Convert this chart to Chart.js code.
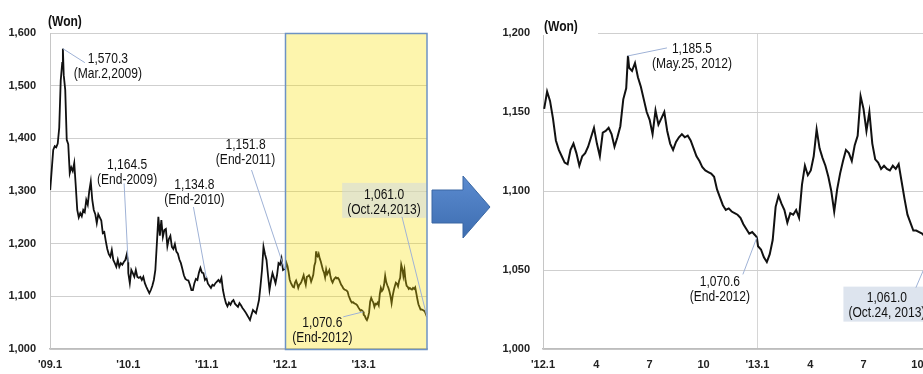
<!DOCTYPE html>
<html>
<head>
<meta charset="utf-8">
<script src="https://cdn.jsdelivr.net/npm/chart.js@4.4.0/dist/chart.umd.min.js"></script>
<style>
  html, body { margin: 0; padding: 0; background: #fff; overflow: hidden; }
  body { width: 923px; height: 374px; position: relative; }
  .panel { position: absolute; top: 0; height: 374px; }
  #leftPanel { left: 0; width: 437px; }
  #rightPanel { left: 490px; width: 455px; }
  #arrow { position: absolute; left: 430px; top: 170px; }
</style>
</head>
<body>
<div id="leftPanel" class="panel"><canvas id="longChart"></canvas></div>
<div id="rightPanel" class="panel"><canvas id="zoomChart"></canvas></div>
<svg id="arrow" width="64" height="76" viewBox="0 0 64 76">
  <defs>
    <linearGradient id="arrowFill" x1="0" y1="0" x2="0" y2="1">
      <stop offset="0" stop-color="#5b8bd0"/>
      <stop offset="1" stop-color="#3d6db0"/>
    </linearGradient>
  </defs>
  <polygon points="2,20 33,20 33,6 60,37 33,68 33,53 2,53" fill="url(#arrowFill)" stroke="#3a67a3" stroke-width="1"/>
</svg>
<script>
// KRW per USD, weekly closes 2009-2011 (every 7 days from weeklyStart)
const weeklyStart = '2009-01-02';
const weeklyRates = [
  1302, 1340, 1378, 1385, 1383, 1390, 1420, 1510, 1543, 1520,
  1492, 1397, 1389, 1334, 1345, 1338, 1353, 1310, 1264, 1250,
  1258, 1252, 1264, 1260, 1283, 1274, 1300, 1318, 1283, 1264,
  1256, 1239, 1256, 1250, 1244, 1220, 1222, 1205, 1190, 1180,
  1175, 1188, 1169, 1163, 1156, 1169, 1156, 1163, 1160, 1165,
  1169, 1180,
  1144, 1125, 1150, 1144, 1137, 1150, 1137, 1135, 1137, 1131,
  1137, 1125, 1118, 1112, 1106, 1112, 1120, 1131, 1150, 1200,
  1251, 1215, 1245, 1213, 1226, 1228, 1195, 1209, 1215, 1194,
  1190, 1199, 1185, 1181, 1170, 1163, 1152, 1140, 1133, 1131,
  1130, 1122, 1112, 1112, 1125, 1133, 1131, 1145, 1154, 1145,
  1144, 1131, 1135,
  1124, 1120, 1116, 1122, 1120, 1125, 1128, 1131, 1127, 1135,
  1112, 1098, 1087, 1081, 1088, 1084, 1090, 1093, 1086, 1083,
  1080, 1087, 1083, 1078, 1074, 1070, 1065, 1060, 1055, 1065,
  1074, 1071, 1068, 1080, 1093, 1120, 1150, 1194, 1180, 1169,
  1140, 1112, 1130, 1144, 1135, 1125, 1140, 1163, 1160, 1172,
  1150
];

// 2012-2013 closes, every 5 days from recentStart
const recentStart = '2012-01-03';
const recentRates = [
  1152, 1163, 1157, 1146, 1132, 1126, 1122, 1118, 1117, 1126,
  1130, 1124, 1116, 1122, 1124, 1128, 1134, 1140, 1130, 1122,
  1137, 1138, 1140, 1136, 1128, 1134, 1141, 1158, 1165, 1178,
  1176, 1181, 1172, 1166, 1158, 1150, 1145, 1136, 1151, 1142,
  1146, 1150, 1138, 1130, 1126, 1131, 1134, 1136, 1134, 1135,
  1132, 1127, 1122, 1119, 1115, 1113, 1112, 1111, 1109, 1101,
  1096, 1091, 1088, 1089, 1087, 1086, 1085, 1083, 1079, 1076,
  1073, 1074, 1072, 1065, 1063, 1058, 1055, 1060, 1069, 1090,
  1097, 1092, 1088, 1080, 1086, 1085, 1088, 1083, 1104, 1116,
  1110, 1113, 1122, 1139, 1127, 1121, 1116, 1109, 1100, 1087,
  1101, 1111, 1119, 1126, 1124, 1119, 1129, 1135, 1160, 1152,
  1138, 1150, 1130, 1120, 1118, 1114, 1116, 1114, 1113, 1116,
  1114, 1117, 1106, 1095, 1085, 1080, 1075, 1075, 1074, 1073,
  1071, 1066
];

// labelled points
const keyDates = ['2009-03-02', '2009-12-31', '2010-12-31', '2011-12-30', '2012-05-25', '2012-12-31', '2013-10-24'];
const keyRates = [1570.3, 1164.5, 1134.8, 1151.8, 1185.5, 1070.6, 1061.0];

const longTickDates = ['2009-01-01', '2010-01-01', '2011-01-01', '2012-01-01', '2013-01-01'];
const longTickLabels = ["'09.1", "'10.1", "'11.1", "'12.1", "'13.1"];
const zoomTickDates = ['2012-01-01', '2012-04-01', '2012-07-01', '2012-10-01', '2013-01-01', '2013-04-01', '2013-07-01', '2013-10-01'];
const zoomTickLabels = ["'12.1", '4', '7', '10', "'13.1", '4', '7', '10'];
const longYTicks = [1000, 1100, 1200, 1300, 1400, 1500, 1600];
const zoomYTicks = [1000, 1050, 1100, 1150, 1200];

const FONT = "'Liberation Sans', Arial, sans-serif";
const SQUEEZE = 0.86;   // narrow the callout lettering
const DAY_MS = 86400000;

function dayNo(s) {
  const [y, m, d] = s.split('-').map(Number);
  return Date.UTC(y, m - 1, d) / DAY_MS;
}

function fmt(v, digits) {
  return v.toLocaleString('en-US', { minimumFractionDigits: digits, maximumFractionDigits: digits });
}

function buildSeries() {
  const pts = [];
  const w0 = dayNo(weeklyStart);
  weeklyRates.forEach((v, i) => pts.push({ x: w0 + i * 7, y: v }));
  const r0 = dayNo(recentStart);
  recentRates.forEach((v, i) => pts.push({ x: r0 + i * 5, y: v }));
  const keys = keyDates.map(dayNo);
  const out = pts.filter(p => !keys.some(k => Math.abs(k - p.x) < 1));
  keys.forEach((k, i) => out.push({ x: k, y: keyRates[i] }));
  out.sort((a, b) => a.x - b.x);
  return out;
}

const series = buildSeries();

function narrowText(ctx, text, x, y) {
  ctx.save();
  ctx.translate(x, y);
  ctx.scale(SQUEEZE, 1);
  ctx.fillText(text, 0, 0);
  ctx.restore();
}

// callouts, unit label and the shaded range
const notesPlugin = {
  id: 'notes',
  afterDatasetsDraw(chart, args, opts) {
    const { ctx, chartArea: area } = chart;
    const xs = chart.scales.x, ys = chart.scales.y;
    ctx.save();

    if (opts.shadeFrom) {
      const left = Math.round(xs.getPixelForValue(dayNo(opts.shadeFrom))) + 0.5;
      ctx.fillStyle = 'rgba(248,224,0,0.32)';
      ctx.fillRect(left, area.top, area.right - left, area.bottom - area.top);
      ctx.strokeStyle = '#6d92c4';
      ctx.lineWidth = 1.5;
      ctx.strokeRect(left, area.top + 0.5, area.right - left, area.bottom - area.top);
    }

    // unit label
    ctx.font = 'bold 14px ' + FONT;
    ctx.textBaseline = 'middle';
    ctx.textAlign = 'left';
    if (opts.unitBg) {
      ctx.fillStyle = '#fff';
      ctx.fillRect(area.left - 1, area.top - 18, 56, 20);
    }
    ctx.fillStyle = '#111';
    narrowText(ctx, '(Won)', area.left + opts.unitDx, area.top + opts.unitDy);

    ctx.font = '14px ' + FONT;
    ctx.textAlign = 'center';
    opts.notes.forEach(n => {
      const px = xs.getPixelForValue(dayNo(keyDates[n.key]));
      const py = ys.getPixelForValue(keyRates[n.key]);
      const lines = [fmt(keyRates[n.key], 1), n.when];
      const tx = px + n.dx, ty = py + n.dy;

      if (n.box) {
        const w = Math.max(...lines.map(t => ctx.measureText(t).width)) * SQUEEZE + 10;
        ctx.fillStyle = n.box;
        ctx.fillRect(tx - w / 2, ty - 12, w, 35);
      }

      ctx.strokeStyle = '#9fb2d6';
      ctx.lineWidth = 1;
      ctx.beginPath();
      ctx.moveTo(px, py);
      ctx.lineTo(px + n.lx, py + n.ly);
      ctx.stroke();

      ctx.fillStyle = '#111';
      lines.forEach((t, i) => narrowText(ctx, t, tx, ty + i * 15));
    });
    ctx.restore();
  }
};

function makeChart(id, cfg) {
  const tickDays = cfg.tickDates.map(dayNo);
  return new Chart(document.getElementById(id), {
    type: 'line',
    data: {
      datasets: [{
        data: cfg.data,
        borderColor: '#111',
        borderWidth: cfg.lineWidth,
        pointRadius: 0,
        tension: 0,
        fill: false
      }]
    },
    options: {
      responsive: true,
      maintainAspectRatio: false,
      animation: false,
      layout: { padding: { top: 33, right: 10, bottom: 0, left: 0 } },
      plugins: {
        legend: { display: false },
        tooltip: { enabled: false },
        notes: cfg.notes
      },
      scales: {
        x: {
          type: 'linear',
          min: dayNo(cfg.xMin),
          max: dayNo(cfg.xMax),
          afterBuildTicks: s => { s.ticks = tickDays.map(v => ({ value: v })); },
          afterFit: s => { s.height = 25; },
          ticks: {
            autoSkip: false,
            maxRotation: 0,
            padding: 9,
            color: '#222',
            font: { family: FONT, size: 11, weight: 'bold' },
            callback: v => cfg.tickLabels[tickDays.indexOf(v)]
          },
          grid: {
            display: true,
            drawTicks: false,
            color: c => (cfg.vLine && c.tick && c.tick.value === dayNo(cfg.vLine)) ? '#d6d6d6' : 'transparent'
          },
          border: { color: '#bdbdbd', width: 1.5 }
        },
        y: {
          min: cfg.yTicks[0],
          max: cfg.yTicks[cfg.yTicks.length - 1],
          afterBuildTicks: s => { s.ticks = cfg.yTicks.map(v => ({ value: v })); },
          afterFit: s => { s.width = cfg.yWidth; },
          ticks: {
            padding: cfg.yPad,
            color: '#222',
            font: { family: FONT, size: 11, weight: 'bold' },
            callback: v => fmt(v, 0)
          },
          grid: { color: '#cfcfcf', drawTicks: false },
          border: { color: '#c6c6c6' }
        }
      }
    },
    plugins: [notesPlugin]
  });
}

makeChart('longChart', {
  data: series,
  lineWidth: 1.8,
  xMin: '2009-01-01',
  xMax: '2013-10-24',
  tickDates: longTickDates,
  tickLabels: longTickLabels,
  yTicks: longYTicks,
  yWidth: 50,
  yPad: 14,
  notes: {
    shadeFrom: '2012-01-01',
    unitDx: -2, unitDy: -11,
    notes: [
      { key: 0, when: '(Mar.2,2009)', dx: 45, dy: 10, lx: 22, ly: 14 },
      { key: 1, when: '(End-2009)', dx: -1, dy: -97, lx: -4, ly: -79 },
      { key: 2, when: '(End-2010)', dx: -12, dy: -93, lx: -13, ly: -71 },
      { key: 3, when: '(End-2011)', dx: -39, dy: -124, lx: -33, ly: -99 },
      { key: 5, when: '(End-2012)', dx: -41, dy: 11, lx: -20, ly: 5 },
      { key: 6, when: '(Oct.24,2013)', dx: -43, dy: -122, lx: -25, ly: -100, box: 'rgba(205,215,228,0.5)' }
    ]
  }
});

makeChart('zoomChart', {
  data: series.filter(p => p.x >= dayNo('2012-01-01')),
  lineWidth: 2,
  xMin: '2012-01-01',
  xMax: '2013-10-31',
  tickDates: zoomTickDates,
  tickLabels: zoomTickLabels,
  yTicks: zoomYTicks,
  yWidth: 53,
  yPad: 13,
  vLine: '2013-01-01',
  notes: {
    unitBg: true,
    unitDx: 1, unitDy: -6,
    notes: [
      { key: 4, when: '(May.25, 2012)', dx: 64, dy: -7, lx: 39, ly: -8 },
      { key: 5, when: '(End-2012)', dx: -37, dy: 45, lx: -14, ly: 37 },
      { key: 6, when: '(Oct.24, 2013)', dx: -44, dy: 46, lx: -15, ly: 35, box: '#dde4ee' }
    ]
  }
});
</script>
</body>
</html>
